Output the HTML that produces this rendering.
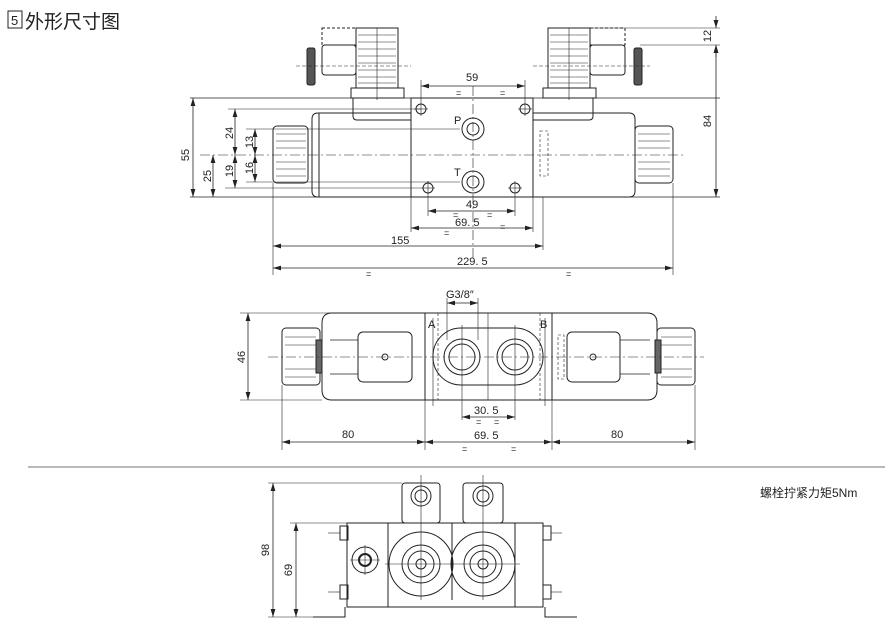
<!DOCTYPE html>
<html><head><meta charset="utf-8"><style>
html,body{margin:0;padding:0;background:#fff;}
svg{display:block;}
text{font-family:"Liberation Sans","Noto Sans CJK SC",sans-serif;fill:#222;}
</style></head><body>
<svg width="895" height="627" viewBox="0 0 895 627" xmlns="http://www.w3.org/2000/svg">
<defs>
<marker id="a" viewBox="0 0 10 6" refX="10" refY="3" markerWidth="10" markerHeight="6" orient="auto-start-reverse"><path d="M0,0 L10,3 L0,6 z" fill="#222"/></marker>
</defs>
<g stroke="#222" fill="none" stroke-width="1">
<rect x="8" y="11" width="14" height="17"/>
</g>
<text x="11" y="25" font-size="13">5</text>
<text x="25" y="28" font-size="19" font-family="Noto Serif CJK SC,serif">外形尺寸图</text>

<g stroke="#222" fill="none" stroke-width="1">
<line x1="190" y1="98" x2="720" y2="98" stroke-width="0.8"/>
<line x1="190" y1="197" x2="720" y2="197" stroke-width="0.8"/>
<rect x="411" y="98" width="122" height="99"/>
<path d="M318,113 H411 V197 H318 Q312,197 312,191 V119 Q312,113 318,113 Z"/>
<line x1="319" y1="113" x2="319" y2="197"/>
<path d="M533,113 H629 Q635,113 635,119 V191 Q635,197 629,197 H533"/>
<rect x="273" y="126" width="35" height="57" rx="4"/>
<rect x="635" y="126" width="38" height="57" rx="4"/>
<g stroke-width="0.6">
<line x1="276" y1="134" x2="306" y2="134"/><line x1="276" y1="141" x2="306" y2="141"/><line x1="276" y1="148" x2="306" y2="148"/><line x1="276" y1="162" x2="306" y2="162"/><line x1="276" y1="169" x2="306" y2="169"/><line x1="276" y1="176" x2="306" y2="176"/>
<line x1="638" y1="134" x2="670" y2="134"/><line x1="638" y1="141" x2="670" y2="141"/><line x1="638" y1="148" x2="670" y2="148"/><line x1="638" y1="162" x2="670" y2="162"/><line x1="638" y1="169" x2="670" y2="169"/><line x1="638" y1="176" x2="670" y2="176"/>
</g>
<path d="M353,98 V116 Q353,120 357,120 H411"/>
<rect x="351" y="88" width="53" height="10"/>
<rect x="356" y="28" width="42" height="60"/>
<path d="M533,120 H589 Q593,120 593,116 V98"/>
<rect x="543" y="88" width="53" height="10"/>
<rect x="548" y="28" width="42" height="60"/>
<g stroke-width="0.5">
<line x1="358" y1="35" x2="396" y2="35"/><line x1="358" y1="42" x2="396" y2="42"/><line x1="358" y1="49" x2="396" y2="49"/><line x1="358" y1="56" x2="396" y2="56"/><line x1="358" y1="63" x2="396" y2="63"/><line x1="358" y1="70" x2="396" y2="70"/><line x1="358" y1="77" x2="396" y2="77"/><line x1="358" y1="83" x2="396" y2="83"/>
<line x1="550" y1="35" x2="588" y2="35"/><line x1="550" y1="42" x2="588" y2="42"/><line x1="550" y1="49" x2="588" y2="49"/><line x1="550" y1="56" x2="588" y2="56"/><line x1="550" y1="63" x2="588" y2="63"/><line x1="550" y1="70" x2="588" y2="70"/><line x1="550" y1="77" x2="588" y2="77"/><line x1="550" y1="83" x2="588" y2="83"/>
</g>
<rect x="322" y="45" width="34" height="30" rx="3"/>
<rect x="590" y="45" width="35" height="30" rx="3"/>
<rect x="322" y="28" width="34" height="17" stroke-dasharray="3,2"/>
<rect x="590" y="28" width="35" height="17" stroke-dasharray="3,2"/>
<rect x="307" y="48" width="8" height="37" rx="2" fill="#555"/>
<rect x="634" y="48" width="8" height="37" rx="2" fill="#555"/>
<line x1="296" y1="66" x2="411" y2="66" stroke-dasharray="4,2" stroke-width="0.6"/>
<line x1="533" y1="66" x2="650" y2="66" stroke-dasharray="4,2" stroke-width="0.6"/>
<line x1="377" y1="28" x2="377" y2="100" stroke-width="0.6"/>
<line x1="569" y1="28" x2="569" y2="100" stroke-width="0.6"/>
<rect x="540" y="131" width="8" height="45" stroke-dasharray="3,2" stroke-width="0.6"/>
<line x1="200" y1="155" x2="685" y2="155" stroke-dasharray="10,3,2,3" stroke-width="0.6"/>
<line x1="473" y1="86" x2="473" y2="260" stroke-dasharray="10,3,2,3" stroke-width="0.6"/>
<circle cx="473" cy="129" r="11"/><circle cx="473" cy="129" r="6"/>
<circle cx="473" cy="182" r="11"/><circle cx="473" cy="182" r="6"/>
<circle cx="421" cy="109" r="5"/><circle cx="525" cy="109" r="5"/>
<circle cx="428" cy="188" r="5"/><circle cx="515" cy="188" r="5"/>
<g stroke-width="0.6">
<line x1="414" y1="109" x2="428" y2="109"/><line x1="421" y1="80" x2="421" y2="116"/>
<line x1="518" y1="109" x2="532" y2="109"/><line x1="525" y1="80" x2="525" y2="116"/>
<line x1="421" y1="188" x2="435" y2="188"/><line x1="428" y1="181" x2="428" y2="216"/>
<line x1="508" y1="188" x2="522" y2="188"/><line x1="515" y1="181" x2="515" y2="216"/>
<line x1="228" y1="109" x2="421" y2="109"/>
<line x1="246" y1="129" x2="460" y2="129"/>
<line x1="246" y1="182" x2="460" y2="182"/>
<line x1="225" y1="188" x2="421" y2="188"/>
<line x1="573" y1="28" x2="720" y2="28"/>
<line x1="640" y1="45" x2="720" y2="45"/>
<line x1="273" y1="183" x2="273" y2="275"/>
<line x1="673" y1="183" x2="673" y2="275"/>
<line x1="411" y1="197" x2="411" y2="232"/>
<line x1="533" y1="197" x2="533" y2="232"/>
<line x1="543" y1="197" x2="543" y2="250"/>
</g>
<g stroke-width="0.8">
<line x1="421" y1="86" x2="525" y2="86" marker-start="url(#a)" marker-end="url(#a)"/>
<line x1="428" y1="211" x2="515" y2="211" marker-start="url(#a)" marker-end="url(#a)"/>
<line x1="411" y1="228" x2="533" y2="228" marker-start="url(#a)" marker-end="url(#a)"/>
<line x1="273" y1="246" x2="543" y2="246" marker-start="url(#a)" marker-end="url(#a)"/>
<line x1="273" y1="268" x2="673" y2="268" marker-start="url(#a)" marker-end="url(#a)"/>
<line x1="193" y1="98" x2="193" y2="197" marker-start="url(#a)" marker-end="url(#a)"/>
<line x1="213" y1="155" x2="213" y2="197" marker-start="url(#a)" marker-end="url(#a)"/>
<line x1="235" y1="109" x2="235" y2="155" marker-start="url(#a)" marker-end="url(#a)"/>
<line x1="235" y1="155" x2="235" y2="188" marker-start="url(#a)" marker-end="url(#a)"/>
<line x1="255" y1="129" x2="255" y2="155" marker-start="url(#a)" marker-end="url(#a)"/>
<line x1="255" y1="155" x2="255" y2="182" marker-start="url(#a)" marker-end="url(#a)"/>
<line x1="716" y1="45" x2="716" y2="197" marker-start="url(#a)" marker-end="url(#a)"/>
<line x1="716" y1="16" x2="716" y2="28" marker-end="url(#a)"/>
<line x1="716" y1="57" x2="716" y2="45" marker-end="url(#a)"/>
</g>
</g>
<g font-size="11">
<text x="466" y="81">59</text><text x="456" y="96" font-size="9">=</text><text x="500" y="96" font-size="9">=</text>
<text x="454" y="124">P</text><text x="454" y="176">T</text>
<text x="466" y="208">49</text><text x="453" y="218" font-size="9">=</text><text x="487" y="218" font-size="9">=</text>
<text x="455" y="226">69. 5</text><text x="444" y="236" font-size="9">=</text><text x="500" y="230" font-size="9">=</text>
<text x="391" y="244">155</text>
<text x="457" y="265">229. 5</text><text x="366" y="277" font-size="9">=</text><text x="566" y="277" font-size="9">=</text>
<text transform="translate(189,155) rotate(-90)" text-anchor="middle">55</text>
<text transform="translate(211,176) rotate(-90)" text-anchor="middle">25</text>
<text transform="translate(233,133) rotate(-90)" text-anchor="middle">24</text>
<text transform="translate(233,171) rotate(-90)" text-anchor="middle">19</text>
<text transform="translate(253,142) rotate(-90)" text-anchor="middle">13</text>
<text transform="translate(253,168) rotate(-90)" text-anchor="middle">16</text>
<text transform="translate(711,121) rotate(-90)" text-anchor="middle">84</text>
<text transform="translate(711,36) rotate(-90)" text-anchor="middle">12</text>
</g>

<g stroke="#222" fill="none" stroke-width="1">
<rect x="425" y="313" width="127" height="87"/>
<path d="M332,313 H425 V400 H332 Q322,400 322,390 V323 Q322,313 332,313 Z"/>
<path d="M552,313 H647 Q657,313 657,323 V390 Q657,400 647,400 H552"/>
<rect x="282" y="328" width="38" height="57" rx="4"/>
<rect x="657" y="328" width="38" height="57" rx="4"/>
<rect x="316" y="340" width="6" height="33" fill="#666"/>
<rect x="655" y="340" width="6" height="33" fill="#666"/>
<g stroke-width="0.6"><line x1="285" y1="337" x2="316" y2="337"/><line x1="285" y1="345" x2="316" y2="345"/><line x1="285" y1="369" x2="316" y2="369"/><line x1="285" y1="377" x2="316" y2="377"/>
<line x1="661" y1="337" x2="692" y2="337"/><line x1="661" y1="345" x2="692" y2="345"/><line x1="661" y1="369" x2="692" y2="369"/><line x1="661" y1="377" x2="692" y2="377"/></g>
<rect x="358" y="332" width="54" height="50" rx="5"/>
<rect x="567" y="332" width="53" height="50" rx="5"/>
<path d="M330,340 H358 M330,374 H358 M620,340 H650 M620,374 H650" stroke-width="0.7"/>
<circle cx="385" cy="357" r="3"/><circle cx="593" cy="357" r="3"/>
<rect x="433" y="328" width="110" height="57" rx="28"/>
<circle cx="462" cy="357" r="18"/><circle cx="462" cy="357" r="13"/>
<circle cx="515" cy="357" r="18"/><circle cx="515" cy="357" r="13"/>
<g stroke-dasharray="3,2" stroke-width="0.6"><line x1="438" y1="313" x2="438" y2="400"/><line x1="540" y1="313" x2="540" y2="400"/><rect x="558" y="335" width="6" height="44"/></g>
<line x1="488" y1="313" x2="488" y2="400" stroke-width="0.6"/>
<line x1="268" y1="357" x2="704" y2="357" stroke-dasharray="10,3,2,3" stroke-width="0.6"/>
<g stroke-width="0.6">
<line x1="240" y1="313" x2="425" y2="313"/><line x1="240" y1="400" x2="322" y2="400"/>
<line x1="282" y1="385" x2="282" y2="450"/><line x1="695" y1="385" x2="695" y2="450"/>
<line x1="425" y1="400" x2="425" y2="450"/><line x1="552" y1="400" x2="552" y2="450"/>
<line x1="462" y1="325" x2="462" y2="420"/><line x1="515" y1="325" x2="515" y2="420"/>
<line x1="447" y1="298" x2="447" y2="340"/><line x1="478" y1="298" x2="478" y2="340"/>
<line x1="433" y1="318" x2="433" y2="406"/><line x1="545" y1="318" x2="545" y2="406"/>
</g>
<g stroke-width="0.8">
<line x1="248" y1="313" x2="248" y2="400" marker-start="url(#a)" marker-end="url(#a)"/>
<line x1="282" y1="442" x2="425" y2="442" marker-start="url(#a)" marker-end="url(#a)"/>
<line x1="425" y1="442" x2="552" y2="442" marker-start="url(#a)" marker-end="url(#a)"/>
<line x1="552" y1="442" x2="695" y2="442" marker-start="url(#a)" marker-end="url(#a)"/>
<line x1="462" y1="417" x2="515" y2="417" marker-start="url(#a)" marker-end="url(#a)"/>
<line x1="447" y1="303" x2="478" y2="303" marker-start="url(#a)" marker-end="url(#a)"/>
</g>
</g>
<g font-size="11">
<text x="446" y="298">G3/8″</text>
<text x="428" y="328">A</text><text x="540" y="328">B</text>
<text x="474" y="414">30. 5</text><text x="476" y="425" font-size="9">=</text><text x="494" y="425" font-size="9">=</text>
<text x="342" y="438">80</text><text x="474" y="439">69. 5</text><text x="611" y="438">80</text>
<text x="462" y="452" font-size="9">=</text><text x="511" y="452" font-size="9">=</text>
<text transform="translate(245,357) rotate(-90)" text-anchor="middle">46</text>
</g>

<line x1="28" y1="467" x2="885" y2="467" stroke="#444" stroke-width="0.8"/>

<g stroke="#222" fill="none" stroke-width="1">
<rect x="347" y="523" width="196" height="84"/>
<line x1="388" y1="523" x2="388" y2="607"/><line x1="515" y1="523" x2="515" y2="607"/>
<line x1="452" y1="523" x2="452" y2="600"/>
<rect x="402" y="483" width="38" height="40" rx="3"/>
<rect x="463" y="483" width="40" height="40" rx="3"/>
<circle cx="421" cy="496" r="10"/><circle cx="421" cy="496" r="6"/>
<circle cx="483" cy="496" r="10"/><circle cx="483" cy="496" r="6"/>
<circle cx="421" cy="564" r="32"/><circle cx="421" cy="564" r="19"/><circle cx="421" cy="564" r="13"/><circle cx="421" cy="564" r="5"/>
<circle cx="483" cy="564" r="32"/><circle cx="483" cy="564" r="19"/><circle cx="483" cy="564" r="13"/><circle cx="483" cy="564" r="5"/>
<circle cx="365" cy="560" r="13"/><circle cx="365" cy="560" r="6" stroke-width="2"/>
<path d="M313,617 H345 V607 M577,617 H545 V607"/>
<rect x="340" y="526" width="8" height="14"/><rect x="543" y="526" width="8" height="14"/>
<rect x="340" y="585" width="8" height="14"/><rect x="543" y="585" width="8" height="14"/>
<g stroke-width="0.6">
<line x1="328" y1="533" x2="340" y2="533"/><line x1="551" y1="533" x2="562" y2="533"/>
<line x1="328" y1="592" x2="340" y2="592"/><line x1="551" y1="592" x2="562" y2="592"/>
<line x1="421" y1="475" x2="421" y2="600"/><line x1="483" y1="475" x2="483" y2="600"/>
<line x1="385" y1="564" x2="520" y2="564"/>
<line x1="350" y1="560" x2="380" y2="560"/><line x1="365" y1="545" x2="365" y2="575"/>
<line x1="268" y1="483" x2="402" y2="483"/><line x1="290" y1="523" x2="347" y2="523"/>
<line x1="268" y1="617" x2="313" y2="617"/>
</g>
<g stroke-width="0.8">
<line x1="273" y1="483" x2="273" y2="617" marker-start="url(#a)" marker-end="url(#a)"/>
<line x1="296" y1="523" x2="296" y2="617" marker-start="url(#a)" marker-end="url(#a)"/>
</g>
</g>
<g font-size="11">
<text transform="translate(269,550) rotate(-90)" text-anchor="middle">98</text>
<text transform="translate(292,570) rotate(-90)" text-anchor="middle">69</text>
<text x="760" y="497" font-size="12">螺栓拧紧力矩5Nm</text>
</g>
</svg>
</body></html>
